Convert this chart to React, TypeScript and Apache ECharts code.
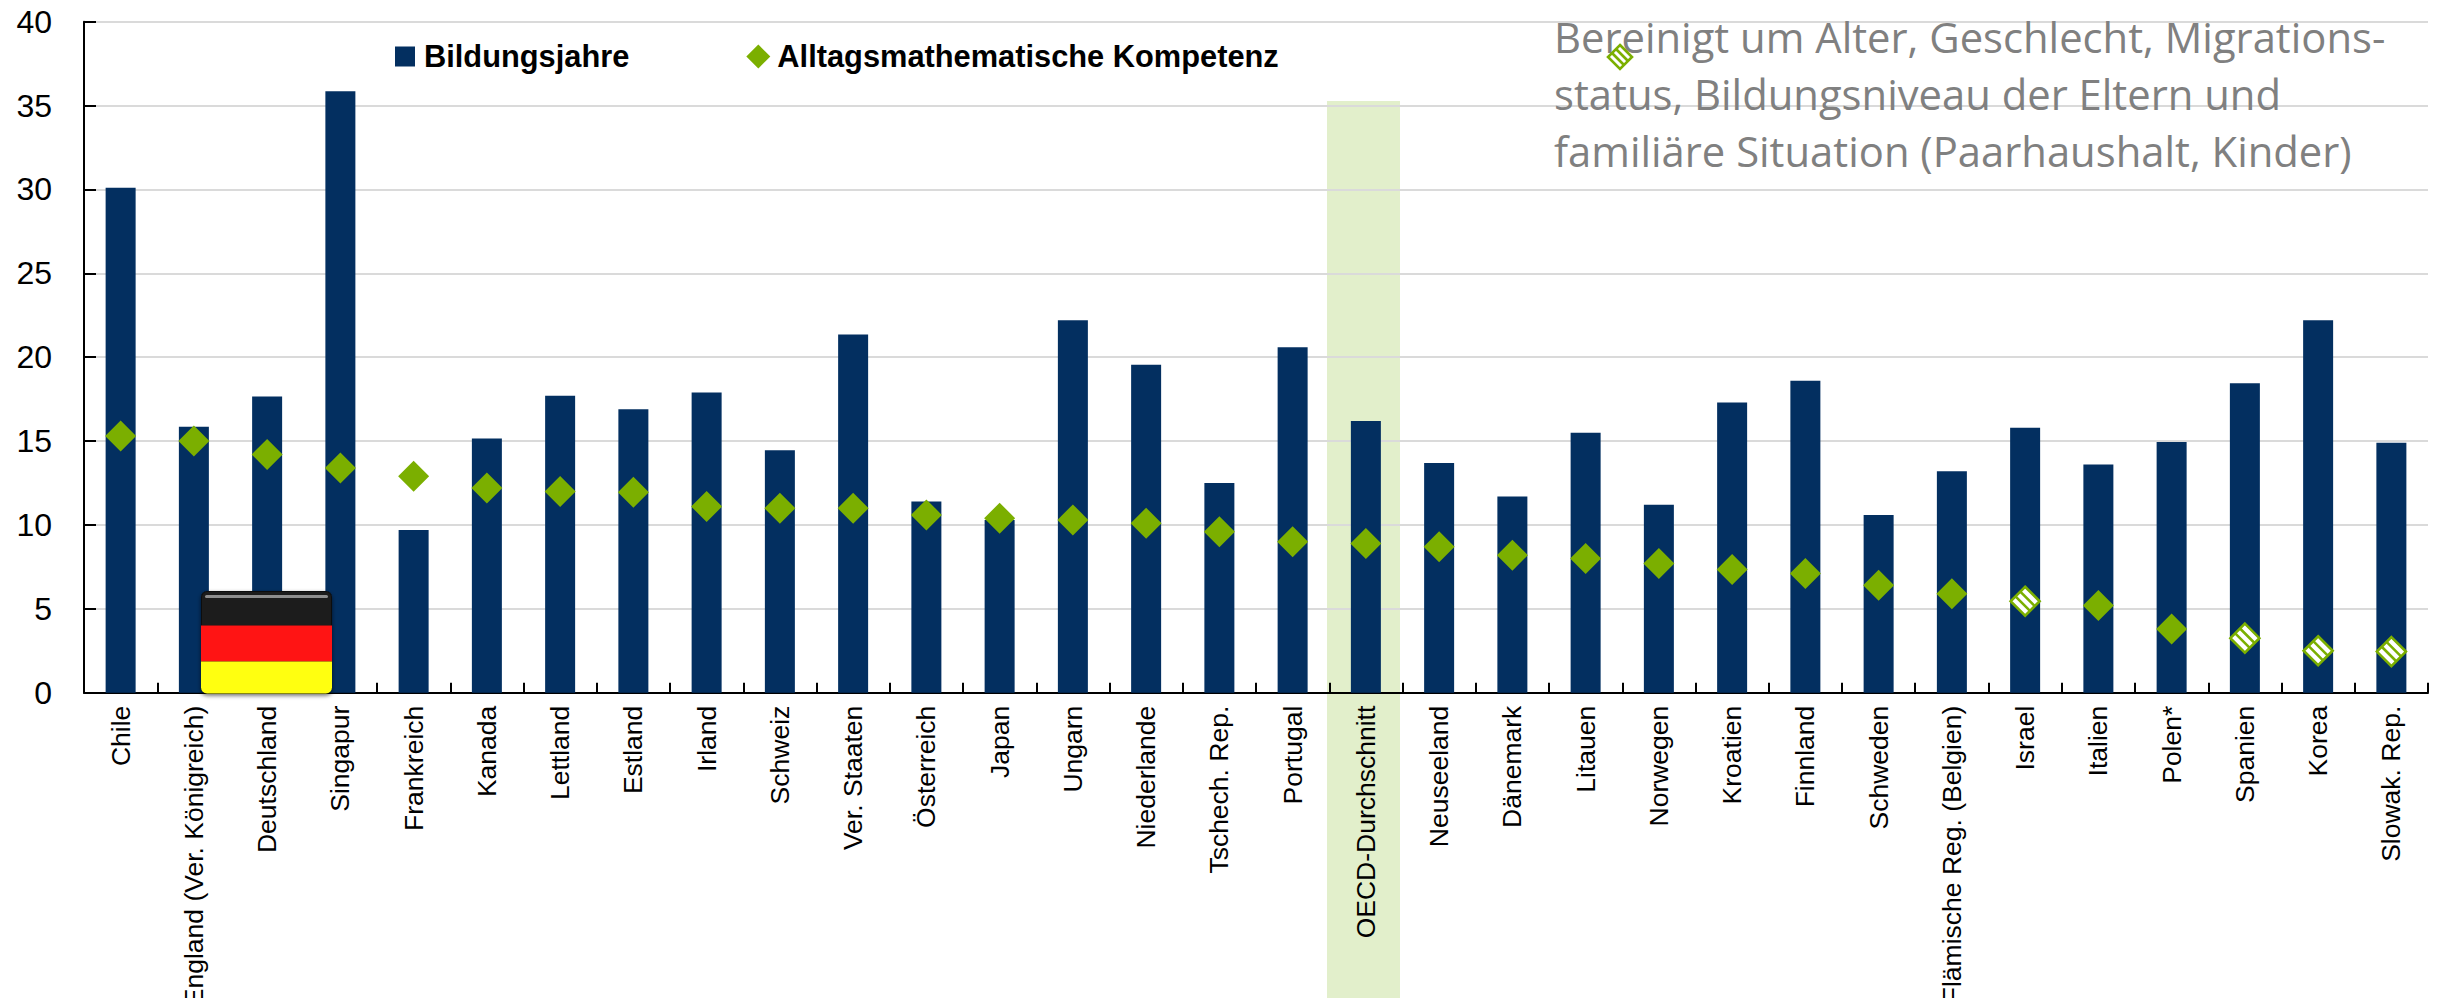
import React, { useEffect, useRef } from "react";
import * as echarts from "echarts";

const categories = ["Chile","England (Ver. Königreich)","Deutschland","Singapur","Frankreich","Kanada","Lettland","Estland","Irland","Schweiz","Ver. Staaten","Österreich","Japan","Ungarn","Niederlande","Tschech. Rep.","Portugal","OECD-Durchschnitt","Neuseeland","Dänemark","Litauen","Norwegen","Kroatien","Finnland","Schweden","Flämische Reg. (Belgien)","Israel","Italien","Polen*","Spanien","Korea","Slowak. Rep."];
const bildungsjahre = [30.1,15.85,17.65,35.85,9.7,15.15,17.7,16.9,17.9,14.45,21.35,11.4,10.3,22.2,19.55,12.5,20.6,16.2,13.7,11.7,15.5,11.2,17.3,18.6,10.6,13.2,15.8,13.6,14.95,18.45,22.2,14.9];
const kompetenz = [15.3,15.0,14.2,13.4,12.9,12.2,12.0,11.95,11.1,11.0,11.0,10.6,10.4,10.3,10.1,9.6,9.0,8.9,8.7,8.2,8.0,7.7,7.35,7.1,6.4,5.9,5.45,5.2,3.8,3.25,2.5,2.45];
const nichtSignifikant = ["Israel","Spanien","Korea","Slowak. Rep."];
const yTicks = { min: 0, max: 40, interval: 5 };
const legendNames = ["Bildungsjahre", "Alltagsmathematische Kompetenz"];
const noteLines = ["Bereinigt um Alter, Geschlecht, Migrations-", "status, Bildungsniveau der Eltern und", "familiäre Situation (Paarhaushalt, Kinder)"];

const NAVY = "#032F60";
const GREEN = "#7BAF00";

function hatchParts(cx: number, cy: number, r: number, lw: number, z: number) {
  const s = (w: number) => {
    const a = [cx + (-r + w) / 2, cy + (-r - w) / 2];
    const b = [cx + (r + w) / 2, cy + (r - w) / 2];
    return { type: "line", z, shape: { x1: a[0], y1: a[1], x2: b[0], y2: b[1] }, style: { stroke: GREEN, lineWidth: lw }, z2: 2 };
  };
  return [
    { type: "polygon", z, shape: { points: [[cx, cy - r], [cx + r, cy], [cx, cy + r], [cx - r, cy]] }, style: { fill: "#fff", stroke: GREEN, lineWidth: lw }, z2: 1 },
    s(r / 3),
    s(-r / 3),
  ];
}

export default function App() {
  const ref = useRef<HTMLDivElement>(null);
  useEffect(() => {
    document.body.style.margin = "0";
    const chart = echarts.init(ref.current!, undefined, { renderer: "svg" });
    const FLAG_Z = 10;
    chart.setOption({
      animation: false,
      backgroundColor: "#fff",
      grid: { left: 84, right: 15, top: 21.7, bottom: 305.3, outerBoundsMode: "none" },
      legend: {
        data: [
          { name: legendNames[0], icon: "path://M0 0L0 0M2 2L22 2L22 22L2 22ZM24 24L24 24" },
          { name: legendNames[1], icon: "diamond" },
        ],
        left: 393, top: 41, padding: 0, itemWidth: 24, itemHeight: 24, itemGap: 117,
        textStyle: { fontFamily: "Liberation Sans", fontWeight: "bold", fontSize: 30.8, color: "#000", padding: [0, 0, 0, 2] },
      },
      xAxis: {
        type: "category", data: categories,
        axisLine: { lineStyle: { color: "#000", width: 2 } },
        axisTick: { show: true, inside: true, length: 10, alignWithLabel: false, interval: 0, lineStyle: { color: "#000", width: 2 } },
        axisLabel: { rotate: 90, interval: 0, margin: 13, fontFamily: "Liberation Sans", fontSize: 26.5, color: "#000" },
        splitLine: { show: false },
      },
      yAxis: {
        type: "value", ...yTicks,
        axisLine: { show: true, lineStyle: { color: "#000", width: 2 } },
        axisTick: { show: true, inside: true, length: 12, lineStyle: { color: "#000", width: 2 } },
        axisLabel: { margin: 32, fontFamily: "Liberation Sans", fontSize: 32, color: "#000" },
        splitLine: { show: true, lineStyle: { color: "#DADADA", width: 2 } },
      },
      series: [
        { name: legendNames[0], type: "bar", data: bildungsjahre, barWidth: 30, itemStyle: { color: NAVY }, z: 2 },
        {
          name: legendNames[1], type: "scatter", symbol: "diamond", symbolSize: 31, z: 3,
          itemStyle: { color: GREEN, opacity: 1 },
          data: kompetenz.map((v, i) => (nichtSignifikant.includes(categories[i]) ? null : v)),
        },
        {
          name: "nicht signifikant", type: "custom", z: 3,
          encode: { x: 0, y: 1 },
          data: kompetenz.map((v, i) => [i, v]).filter(([i]) => nichtSignifikant.includes(categories[i])),
          renderItem: (_p: any, api: any) => {
            const [cx, cy] = api.coord([api.value(0), api.value(1)]);
            return { type: "group", children: hatchParts(cx, cy, 14.5, 2.6, 3) };
          },
        },
      ],
      graphic: [
        { type: "rect", silent: true, z: -1, shape: { x: 1327, y: 101, width: 73, height: 897 }, style: { fill: "#E2EFCB" } },
        { type: "rect", silent: true, z: FLAG_Z, shape: { x: 201, y: 591, width: 131, height: 102.5, r: 6 }, style: { fill: "#111", shadowBlur: 4, shadowOffsetY: 2, shadowColor: "rgba(0,0,0,0.6)" } },
        { type: "rect", silent: true, z: FLAG_Z, shape: { x: 202, y: 592, width: 129, height: 33.5, r: [5, 5, 0, 0] }, style: { fill: "#1C1C1C" } },
        { type: "rect", silent: true, z: FLAG_Z, shape: { x: 205, y: 595, width: 123, height: 3, r: 1.5 }, style: { fill: "#8E8E8E" } },
        { type: "rect", silent: true, z: FLAG_Z, shape: { x: 201, y: 625.5, width: 131, height: 36 }, style: { fill: "#FF1414" } },
        { type: "rect", silent: true, z: FLAG_Z, shape: { x: 201, y: 661.5, width: 131, height: 32, r: [0, 0, 6, 6] }, style: { fill: "#FFFF10" } },
        {
          type: "text", silent: true, z: 11, x: 1554, y: 8, scaleX: 0.995,
          style: { text: noteLines.join("\n"), fontFamily: "Open Sans", fontSize: 42, lineHeight: 57, fill: "#808080" },
        },
        { type: "group", silent: true, children: hatchParts(1620, 57, 12, 2.6, 12) },
      ],
    });
    return () => chart.dispose();
  }, []);
  return <div ref={ref} style={{ position: "absolute", left: 0, top: 0, width: 2443, height: 998 }} />;
}
